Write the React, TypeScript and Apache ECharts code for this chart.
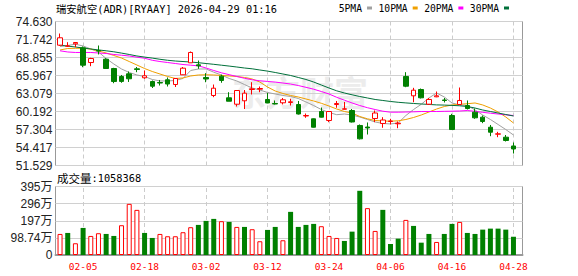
import React, { useEffect, useRef } from 'react';
import * as echarts from 'echarts';

const dates = [
  '02-02', '02-03', '02-04', '02-05', '02-06', '02-09', '02-10', '02-11', '02-12', '02-13',
  '02-17', '02-18', '02-19', '02-20', '02-23', '02-24', '02-25', '02-26', '02-27', '03-02',
  '03-03', '03-04', '03-05', '03-06', '03-09', '03-10', '03-11', '03-12', '03-13', '03-16',
  '03-17', '03-18', '03-19', '03-20', '03-23', '03-24', '03-25', '03-26', '03-27', '03-30',
  '03-31', '04-01', '04-02', '04-06', '04-07', '04-08', '04-09', '04-10', '04-13', '04-14',
  '04-15', '04-16', '04-17', '04-20', '04-21', '04-22', '04-23', '04-24', '04-27', '04-28',
];
const tickLabels = ['02-05', '02-18', '03-02', '03-12', '03-24', '04-06', '04-16', '04-28'];

const opens = [
  70.83, 70.66, 71.05, 70.41, 68.05, 69.98, 68.58, 67.09, 65.81, 66.24,
  67.04, 65.60, 65.00, 64.84, 65.28, 64.52, 66.08, 68.00, 67.68, 65.65,
  62.76, 65.86, 62.39, 61.36, 61.91, 63.72, 63.77, 62.12, 61.47, 61.59,
  61.64, 61.31, 59.47, 59.02, 60.19, 58.75, 61.31, 60.56, 60.35, 57.95,
  57.70, 59.07, 58.27, 58.59, 58.22, 65.81, 62.71, 63.72, 61.36, 62.55,
  62.04, 59.55, 61.31, 61.15, 60.08, 59.28, 57.67, 56.55, 56.07, 54.66,
];
const closes = [
  72.02, 70.72, 71.26, 67.62, 68.69, 69.90, 67.09, 65.00, 65.02, 65.44,
  66.93, 65.92, 64.25, 64.76, 64.60, 65.49, 67.14, 69.66, 67.52, 65.41,
  63.93, 65.17, 61.84, 63.56, 63.13, 63.83, 63.88, 61.56, 61.40, 62.07,
  61.75, 59.79, 59.55, 57.67, 59.28, 60.19, 61.47, 60.62, 58.51, 55.81,
  57.55, 59.95, 58.83, 58.67, 58.32, 64.25, 63.61, 62.39, 62.12, 62.71,
  61.96, 57.30, 61.96, 60.67, 59.18, 58.59, 56.87, 56.61, 55.54, 54.18,
];
const lows = [
  70.70, 70.54, 70.51, 67.30, 67.46, 69.34, 67.04, 64.73, 64.80, 64.93,
  66.50, 65.44, 63.96, 64.36, 64.20, 64.12, 66.05, 68.00, 67.04, 64.89,
  62.49, 64.80, 61.84, 60.99, 60.59, 62.92, 63.29, 61.52, 61.32, 61.32,
  61.15, 59.71, 59.18, 57.63, 59.23, 58.48, 60.79, 60.52, 58.43, 55.70,
  56.50, 58.48, 57.58, 58.11, 57.51, 64.09, 61.68, 62.28, 61.24, 62.49,
  61.64, 57.30, 61.27, 60.51, 59.02, 58.32, 56.23, 56.07, 55.38, 53.45,
];
const highs = [
  72.70, 71.31, 71.30, 70.62, 68.81, 70.78, 68.74, 67.20, 66.05, 66.61,
  67.33, 66.77, 65.17, 65.25, 65.65, 65.57, 67.33, 69.82, 68.37, 66.34,
  64.52, 66.10, 63.29, 63.64, 63.64, 64.89, 64.20, 63.16, 61.96, 62.36,
  62.23, 61.88, 59.87, 59.07, 60.83, 60.27, 61.88, 61.72, 60.59, 58.11,
  58.43, 60.35, 59.28, 59.02, 58.59, 66.50, 63.99, 63.88, 62.36, 63.40,
  62.36, 59.82, 64.04, 61.96, 60.67, 59.55, 58.03, 56.93, 56.42, 55.22,
];

const ma5 = [
  70.62, 70.78, 70.99, 70.70, 70.22, 69.74, 68.69, 67.81, 67.01, 66.45,
  66.05, 65.81, 65.33, 65.09, 65.09, 65.17, 65.49, 66.77, 67.01, 67.01,
  66.50, 66.05, 65.49, 65.09, 64.52, 63.96, 63.64, 63.24, 63.00, 62.76,
  62.60, 62.28, 61.72, 61.15, 60.51, 60.03, 59.68, 59.79, 59.63, 59.31,
  58.91, 58.51, 58.27, 58.19, 58.35, 59.55, 60.51, 61.35, 62.36, 63.16,
  62.52, 61.56, 61.24, 61.15, 60.43, 59.63, 58.91, 58.11, 57.30, 56.42,
];
const ma10 = [
  70.06, 70.30, 70.33, 70.33, 70.22, 69.90, 69.58, 69.18, 68.77, 68.21,
  67.65, 67.09, 66.61, 66.21, 65.81, 65.49, 65.57, 65.89, 66.05, 66.08,
  66.05, 65.97, 65.89, 65.81, 65.65, 65.41, 64.92, 64.12, 63.48, 63.08,
  62.76, 62.52, 62.20, 61.88, 61.51, 61.07, 60.59, 60.19, 59.95, 59.39,
  59.02, 58.75, 58.67, 58.64, 58.70, 58.91, 59.23, 59.63, 60.11, 60.59,
  60.99, 61.24, 61.35, 61.44, 61.56, 61.24, 60.75, 60.11, 59.31, 58.35,
];
const ma20 = [
  69.93, 69.74, 69.66, 69.66, 69.66, 69.58, 69.50, 69.34, 69.22, 69.10,
  68.90, 68.74, 68.41, 68.21, 68.05, 67.89, 67.73, 67.62, 67.52, 67.17,
  66.77, 66.40, 66.10, 65.81, 65.52, 65.28, 65.12, 65.01, 64.91, 64.76,
  64.60, 64.36, 64.07, 63.77, 63.40, 63.00, 62.47, 62.01, 61.56, 61.15,
  60.80, 60.51, 60.24, 60.08, 60.08, 60.11, 60.14, 60.19, 60.19, 60.19,
  60.22, 60.24, 60.27, 60.35, 60.22, 60.06, 59.92, 59.79, 59.66, 59.55,
];
const ma30 = [
  70.83, 70.68, 70.54, 70.38, 70.22, 70.07, 69.93, 69.77, 69.56, 69.34,
  69.10, 68.92, 68.76, 68.57, 68.41, 68.29, 68.21, 68.13, 68.02, 67.89,
  67.76, 67.62, 67.48, 67.33, 67.17, 67.04, 66.85, 66.67, 66.45, 66.21,
  65.97, 65.65, 65.33, 64.92, 64.44, 63.96, 63.51, 63.16, 62.87, 62.60,
  62.36, 62.12, 61.96, 61.80, 61.67, 61.57, 61.48, 61.40, 61.32, 61.25,
  61.22, 61.17, 61.11, 60.99, 60.75, 60.43, 60.19, 59.95, 59.71, 59.47,
];

const volumes = [
  1214000, 1272000, 677000, 1561000, 1099000, 1255000, 1214000, 1099000, 1717000, 2949000,
  2602000, 1272000, 983000, 1214000, 1081000, 1081000, 1313000, 1602000, 1735000, 1966000,
  2082000, 1949000, 1908000, 1619000, 1619000, 1486000, 792000, 1446000, 1619000, 850000,
  2487000, 1619000, 1735000, 1793000, 1660000, 1099000, 983000, 810000, 1347000, 3701000,
  2701000, 1388000, 2602000, 636000, 943000, 2024000, 1677000, 711000, 1214000, 752000,
  1214000, 1793000, 1908000, 1272000, 1214000, 1463000, 1521000, 1521000, 1463000, 1058368,
];
const volumeUp = [
  1, 0, 1, 0, 1, 1, 0, 0, 1, 1,
  1, 0, 0, 1, 1, 1, 1, 1, 0, 0,
  0, 1, 0, 1, 0, 1, 1, 0, 0, 1,
  0, 0, 0, 0, 1, 1, 1, 0, 0, 0,
  1, 1, 0, 0, 0, 1, 0, 0, 0, 1,
  0, 0, 1, 0, 0, 0, 0, 0, 0, 0,
];

const priceTickLabels = ['51.529', '54.417', '57.304', '60.192', '63.079', '65.967', '68.855', '71.742', '74.630'];
const volumeTickLabels = ['0', '98.74万', '197万', '296万', '395万'];
const priceMin = 51.529;
const priceMax = 74.63;
const volumeMax = 3949600;

const maNames = ['5PMA', '10PMA', '20PMA', '30PMA'];
const maColors = ['#a0a0a0', '#f0a000', '#ff00ff', '#00703a'];
const maData = [ma5, ma10, ma20, ma30];

const titleText = '瑞安航空(ADR)[RYAAY] 2026-04-29 01:16';

const UP = '#ff0000';
const DOWN = '#008000';
const GRID_LINE = '#d0d0d0';
const BORDER = '#999999';

export default function App() {
  const ref = useRef<HTMLDivElement>(null);

  useEffect(() => {
    if (!ref.current) return;
    const chart = echarts.init(ref.current, undefined, { renderer: 'svg' });

    const frameL = 55.5;
    const frameW = 467;
    const dataL = 56.2;
    const dataW = 461.1;
    const pTop = 21.5;
    const pH = 144;
    const vTop = 186.5;
    const vH = 68.5;

    const dashedLines = {
      silent: true,
      z: 1,
      symbol: ['none', 'none'],
      label: { show: false },
      emphasis: { disabled: true },
      lineStyle: { color: '#cccccc', type: [4, 3], width: 1 },
      data: tickLabels.map((t) => ({ xAxis: t })),
    };

    const option: any = {
      animation: false,
      backgroundColor: '#ffffff',
      textStyle: { fontFamily: 'Liberation Sans' },
      legend: {
        data: maNames,
        left: 338.7,
        top: 3,
        align: 'right',
        icon: 'rect',
        itemWidth: 5,
        itemHeight: 3,
        itemGap: 6.5,
        padding: 0,
        selectedMode: false,
        textStyle: { fontFamily: 'DejaVu Sans Mono', fontSize: 9.7, color: '#000000', padding: 0 },
      },
      graphic: [
        {
          type: 'text',
          x: 232,
          y: 91,
          z: -10,
          silent: true,
          style: {
            text: '东方财富',
            font: 'bold 34px "Noto Sans CJK SC"',
            fill: '#ececec',
            verticalAlign: 'middle',
          },
        },
        {
          type: 'text',
          x: 56,
          y: 9,
          style: {
            text: titleText,
            font: '10.3px "DejaVu Sans Mono", "Noto Sans CJK SC"',
            fill: '#000000',
            verticalAlign: 'middle',
          },
        },
        {
          type: 'text',
          x: 57,
          y: 178,
          style: {
            text: `{a|成交量}{b|:${volumes[volumes.length - 1]}}`,
            rich: {
              a: { fontSize: 11.5, fontFamily: 'Noto Sans CJK SC', fill: '#000000' },
              b: { fontSize: 10.3, fontFamily: 'DejaVu Sans Mono', fill: '#000000' },
            },
            verticalAlign: 'middle',
          },
        },
      ],
      grid: [
        { left: frameL, top: pTop, width: frameW, height: pH, show: true, borderColor: BORDER, borderWidth: 1, backgroundColor: 'transparent', outerBoundsMode: 'none', containLabel: false },
        { left: frameL, top: vTop, width: frameW, height: vH, show: true, borderColor: BORDER, borderWidth: 1, backgroundColor: 'transparent', outerBoundsMode: 'none', containLabel: false },
        { left: dataL, top: pTop, width: dataW, height: pH, outerBoundsMode: 'none', containLabel: false },
        { left: dataL, top: vTop, width: dataW, height: vH, outerBoundsMode: 'none', containLabel: false },
      ],
      xAxis: [
        { gridIndex: 0, type: 'value', min: 0, max: 1, show: false },
        {
          gridIndex: 1, type: 'value', min: 0, max: 1, show: true, position: 'bottom',
          axisLine: { show: true, onZero: false, lineStyle: { color: BORDER, width: 2 } },
          axisTick: { show: false }, axisLabel: { show: false }, splitLine: { show: false },
        },
        { gridIndex: 2, type: 'category', data: dates, boundaryGap: true, show: false },
        {
          gridIndex: 3, type: 'category', data: dates, boundaryGap: true,
          axisLine: { show: false }, axisTick: { show: false }, splitLine: { show: false },
          axisLabel: {
            show: true,
            interval: (_i: number, v: string) => tickLabels.includes(v),
            color: '#ff0000',
            fontFamily: 'DejaVu Sans Mono',
            fontSize: 9.5,
            margin: 6,
          },
        },
      ],
      yAxis: [
        {
          gridIndex: 0, type: 'value', min: 0, max: priceTickLabels.length - 1, interval: 1,
          axisLine: { show: false }, axisTick: { show: false },
          splitLine: { show: true, lineStyle: { color: GRID_LINE, width: 1 } },
          axisLabel: {
            formatter: (v: number) => priceTickLabels[Math.round(v)],
            color: '#222222', fontSize: 12, fontFamily: 'Liberation Sans', margin: 3,
          },
        },
        {
          gridIndex: 1, type: 'value', min: 0, max: volumeTickLabels.length - 1, interval: 1,
          axisLine: { show: false }, axisTick: { show: false },
          splitLine: { show: true, lineStyle: { color: GRID_LINE, width: 1 } },
          axisLabel: {
            formatter: (v: number) => volumeTickLabels[Math.round(v)],
            color: '#222222', fontSize: 12, fontFamily: 'Liberation Sans, Noto Sans CJK SC', margin: 3,
          },
        },
        { gridIndex: 2, type: 'value', min: priceMin, max: priceMax, show: false, splitLine: { show: false } },
        { gridIndex: 3, type: 'value', min: 0, max: volumeMax, show: false, splitLine: { show: false } },
      ],
      series: [
        ...maNames.map((name, k) => ({
          name,
          type: 'line',
          xAxisIndex: 2,
          yAxisIndex: 2,
          data: maData[k],
          symbol: 'none',
          showSymbol: false,
          smooth: false,
          z: 2,
          lineStyle: { color: maColors[k], width: 1 },
          itemStyle: { color: maColors[k] },
          emphasis: { disabled: true },
        })),
        {
          name: 'K',
          type: 'candlestick',
          xAxisIndex: 2,
          yAxisIndex: 2,
          barWidth: 5,
          z: 3,
          data: dates.map((_, i) => [opens[i], closes[i], lows[i], highs[i]]),
          itemStyle: {
            color: '#ffffff',
            color0: DOWN,
            borderColor: UP,
            borderColor0: DOWN,
            borderWidth: 1,
          },
          emphasis: { disabled: true },
          markLine: dashedLines,
        },
        {
          name: 'VOL',
          type: 'bar',
          xAxisIndex: 3,
          yAxisIndex: 3,
          barWidth: 5,
          z: 3,
          data: volumes.map((v, i) => ({
            value: v,
            itemStyle: volumeUp[i]
              ? { color: '#ffffff', borderColor: UP, borderWidth: 1 }
              : { color: DOWN, borderColor: DOWN, borderWidth: 0 },
          })),
          emphasis: { disabled: true },
          markLine: dashedLines,
        },
      ],
    };

    chart.setOption(option);
    return () => chart.dispose();
  }, []);

  return (
    <div
      ref={ref}
      style={{ position: 'absolute', left: 0, top: 0, width: 578, height: 276 }}
    />
  );
}
